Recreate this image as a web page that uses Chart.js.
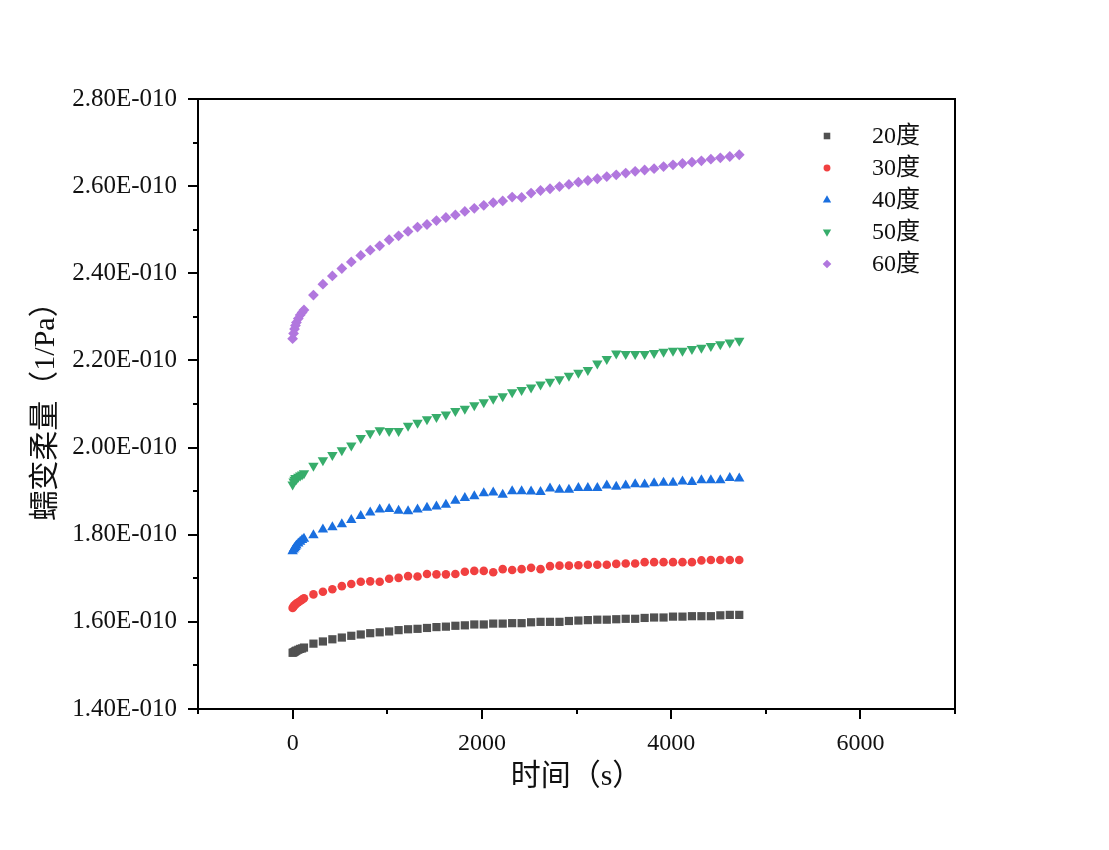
<!DOCTYPE html>
<html>
<head>
<meta charset="utf-8">
<script src="https://cdn.jsdelivr.net/npm/chart.js@4.4.1/dist/chart.umd.min.js"></script>
<style>
  html, body { margin: 0; padding: 0; background: #fff; }
  #wrap { width: 1109px; height: 850px; }
</style>
</head>
<body>
<div id="wrap"><canvas id="chart" width="1109" height="850"></canvas></div>
<script>
// time, s
const TIMES = [0, 10, 20, 30, 40, 60, 80, 100, 120,
  220, 320, 420, 520, 620, 720, 820, 920, 1020, 1120, 1220, 1320, 1420, 1520, 1620, 1720, 1820, 1920,
  2020, 2120, 2220, 2320, 2420, 2520, 2620, 2720, 2820, 2920, 3020, 3120, 3220, 3320, 3420, 3520,
  3620, 3720, 3820, 3920, 4020, 4120, 4220, 4320, 4420, 4520, 4620, 4720];

// creep compliance, units of 1E-010 1/Pa
const C20 = [1.529, 1.530, 1.531, 1.533, 1.534, 1.536, 1.538, 1.539, 1.541,
  1.550, 1.555, 1.560, 1.564, 1.568, 1.571, 1.574, 1.576, 1.578, 1.581, 1.583, 1.584, 1.586, 1.588, 1.589, 1.591, 1.592, 1.594,
  1.594, 1.596, 1.596, 1.597, 1.597, 1.599, 1.600, 1.600, 1.600, 1.602, 1.603, 1.604, 1.605, 1.605, 1.606, 1.607,
  1.607, 1.609, 1.610, 1.610, 1.612, 1.612, 1.613, 1.613, 1.613, 1.615, 1.616, 1.616];
const C30 = [1.632, 1.635, 1.638, 1.640, 1.642, 1.645, 1.648, 1.651, 1.654,
  1.663, 1.669, 1.675, 1.682, 1.687, 1.692, 1.693, 1.692, 1.699, 1.701, 1.705, 1.704, 1.710, 1.709, 1.709, 1.710, 1.715, 1.717,
  1.717, 1.714, 1.721, 1.719, 1.721, 1.724, 1.721, 1.728, 1.729, 1.729, 1.730, 1.731, 1.731, 1.731, 1.733, 1.734,
  1.734, 1.737, 1.737, 1.737, 1.737, 1.737, 1.737, 1.741, 1.742, 1.742, 1.742, 1.742];
const C40 = [1.762, 1.766, 1.769, 1.772, 1.775, 1.780, 1.784, 1.788, 1.791,
  1.799, 1.812, 1.817, 1.824, 1.834, 1.843, 1.851, 1.858, 1.859, 1.855, 1.854, 1.858, 1.862, 1.865, 1.869, 1.878, 1.884, 1.888,
  1.895, 1.897, 1.892, 1.900, 1.900, 1.899, 1.898, 1.906, 1.903, 1.903, 1.907, 1.907, 1.907, 1.913, 1.910, 1.913,
  1.916, 1.915, 1.918, 1.919, 1.919, 1.922, 1.921, 1.925, 1.925, 1.925, 1.930, 1.929];
const C50 = [1.915, 1.922, 1.926, 1.930, 1.928, 1.933, 1.936, 1.938, 1.941,
  1.958, 1.971, 1.983, 1.994, 2.005, 2.022, 2.033, 2.040, 2.038, 2.038, 2.050, 2.057, 2.065, 2.070, 2.076, 2.084, 2.089, 2.097,
  2.104, 2.112, 2.118, 2.127, 2.132, 2.138, 2.145, 2.151, 2.157, 2.165, 2.172, 2.178, 2.193, 2.203, 2.216, 2.215,
  2.215, 2.215, 2.217, 2.220, 2.222, 2.222, 2.226, 2.229, 2.233, 2.237, 2.241, 2.245];
const C60 = [2.250, 2.262, 2.272, 2.280, 2.287, 2.296, 2.304, 2.310, 2.316,
  2.350, 2.375, 2.394, 2.411, 2.426, 2.441, 2.453, 2.463, 2.477, 2.486, 2.496, 2.506, 2.512, 2.521, 2.528, 2.534, 2.542, 2.549,
  2.556, 2.562, 2.566, 2.575, 2.574, 2.584, 2.590, 2.594, 2.599, 2.604, 2.609, 2.613, 2.617, 2.622, 2.626, 2.630,
  2.634, 2.637, 2.640, 2.645, 2.649, 2.652, 2.655, 2.658, 2.662, 2.665, 2.668, 2.672];

const SERIES_NAMES = [`20度`, `30度`, `40度`, `50度`, `60度`];
const SERIES_VALUES = [C20, C30, C40, C50, C60];

const COLORS = [`#515151`, `#F14040`, `#1A6FDF`, `#37AD6B`, `#B177DE`];
const MARKERS = [
  {pointStyle: `rect`, radius: 5.8, rotation: 0},
  {pointStyle: `circle`, radius: 4.3, rotation: 0},
  {pointStyle: `triangle`, radius: 6, rotation: 0},
  {pointStyle: `triangle`, radius: 6, rotation: 180},
  {pointStyle: `rectRot`, radius: 5.4, rotation: 0},
];

const X_TITLE = `时间（s）`;
const Y_TITLE = `蠕变柔量（1/Pa）`;
const FONT = `'Liberation Serif', 'Noto Sans CJK SC', serif`;
const INK = `#111`;

Chart.defaults.font.family = FONT;
Chart.defaults.color = INK;

const datasets = SERIES_NAMES.map((name, i) => ({
  label: name,
  data: TIMES.map((t, j) => ({x: t, y: SERIES_VALUES[i][j]})),
  backgroundColor: COLORS[i],
  borderColor: COLORS[i],
  borderWidth: 0,
  pointStyle: MARKERS[i].pointStyle,
  pointRadius: MARKERS[i].radius,
  pointRotation: MARKERS[i].rotation,
  pointBorderWidth: 0,
  showLine: false,
}));

// frame, outward ticks (major long, minor short) and the inside legend
const framePlugin = {
  id: `frame`,
  afterDraw(chart) {
    const {ctx, chartArea: area, scales} = chart;
    ctx.save();
    ctx.strokeStyle = `#000`;
    ctx.lineWidth = 2;
    ctx.strokeRect(area.left, area.top, area.right - area.left, area.bottom - area.top);

    ctx.beginPath();
    scales.x.ticks.forEach((tick) => {
      const px = Math.round(scales.x.getPixelForValue(tick.value));
      const len = tick.value % 2000 === 0 ? 10 : 5;
      ctx.moveTo(px, area.bottom);
      ctx.lineTo(px, area.bottom + len);
    });
    scales.y.ticks.forEach((tick) => {
      const py = Math.round(scales.y.getPixelForValue(tick.value));
      const len = Math.round(tick.value * 10) % 2 === 0 ? 10 : 5;
      ctx.moveTo(area.left, py);
      ctx.lineTo(area.left - len, py);
    });
    ctx.stroke();

    const markX = area.right - 128;
    const textX = area.right - 83;
    ctx.font = `24px ${FONT}`;
    ctx.textBaseline = `middle`;
    ctx.textAlign = `left`;
    SERIES_NAMES.forEach((name, i) => {
      const y = area.top + 37 + i * 32;
      ctx.fillStyle = COLORS[i];
      Chart.helpers.drawPoint(ctx, {
        pointStyle: MARKERS[i].pointStyle,
        radius: MARKERS[i].radius * 0.8,
        rotation: MARKERS[i].rotation,
        borderWidth: 0,
      }, markX, y);
      ctx.fillStyle = INK;
      ctx.fillText(name, textX, y + 1);
    });
    ctx.restore();
  }
};

new Chart(document.getElementById(`chart`), {
  type: `scatter`,
  data: {datasets},
  plugins: [framePlugin],
  options: {
    responsive: false,
    animation: false,
    events: [],
    layout: {padding: {top: 99, right: 154, bottom: 55, left: 28}},
    plugins: {
      legend: {display: false},
      tooltip: {enabled: false},
    },
    scales: {
      x: {
        type: `linear`,
        min: -1000,
        max: 7000,
        afterFit: (scale) => { scale.height = 86; },
        grid: {display: false, drawTicks: false},
        border: {display: true, color: `#000`, width: 2},
        ticks: {
          stepSize: 1000,
          padding: 20,
          maxRotation: 0,
          autoSkip: false,
          font: {size: 24},
          color: INK,
          callback: (value) => (value % 2000 === 0 ? String(value) : ``),
        },
        title: {display: true, text: X_TITLE, font: {size: 30}, color: INK, padding: 0},
      },
      y: {
        type: `linear`,
        min: 1.4,
        max: 2.8,
        afterFit: (scale) => { scale.width = 170; },
        grid: {display: false, drawTicks: false},
        border: {display: true, color: `#000`, width: 2},
        ticks: {
          stepSize: 0.1,
          padding: 21,
          autoSkip: false,
          font: {size: 25},
          color: INK,
          callback: (value) => (Math.round(value * 10) % 2 === 0 ? `${value.toFixed(2)}E-010` : ``),
        },
        title: {display: true, text: Y_TITLE, font: {size: 30}, color: INK, padding: 0},
      },
    },
  },
});
</script>
</body>
</html>
